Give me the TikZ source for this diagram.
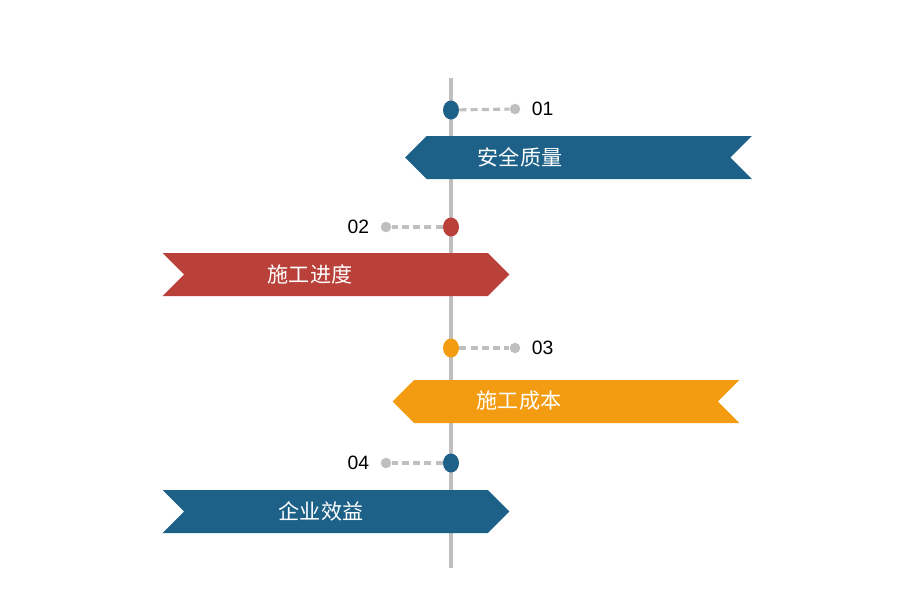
\documentclass[tikz,border=0pt]{standalone}
\usepackage{fontspec}
\setmainfont{Liberation Sans}
\newfontfamily\cjk{Noto Sans CJK SC}
\usetikzlibrary{positioning,shapes.geometric,shapes.symbols}
\definecolor{tlblue}{HTML}{1D6189}
\definecolor{tlred}{HTML}{B9413A}
\definecolor{tlorange}{HTML}{F49C11}
\definecolor{tlgray}{HTML}{BFBFBF}

\begin{document}
\begin{tikzpicture}[
x=0.02cm, y=-0.02cm,
node distance=0.22cm,
dot/.style={ellipse, inner sep=0, minimum width=0.32cm, minimum height=0.38cm},
tick/.style={circle, fill=tlgray, inner sep=0, minimum size=0.21cm},
link/.style={draw=tlgray, line width=1.8pt, dash pattern=on 4pt off 2.4pt},
banner/.style={signal, signal pointer angle=90, inner sep=0, minimum height=0.86cm, minimum width=6.94cm},
caption/.style={text=white, font=\cjk\fontsize{12}{14}\selectfont},
num/.style={inner sep=0, font=\fontsize{11}{13}\selectfont}
]
\useasboundingbox (0,0) rectangle (900,600);
\coordinate (top) at (451,78);
\coordinate (bottom) at (451,568);
\draw[tlgray, line width=1.8pt] (top) -- (bottom);

% banners
\node[banner, fill=tlblue, signal to=west, signal from=east] (b1) at (578.5,157.5) {};
\node[banner, fill=tlred, signal to=east, signal from=west] (b2) at (336,274.5) {};
\node[banner, fill=tlorange, signal to=west, signal from=east] (b3) at (566,401.5) {};
\node[banner, fill=tlblue, signal to=east, signal from=west] (b4) at (336,511.5) {};
\node[caption] (c1) at (520,157) {安全质量};
\node[caption] (c2) at (310,274) {施工进度};
\node[caption] (c3) at (519,401) {施工成本};
\node[caption] (c4) at (321,511) {企业效益};

% markers on the axis
\node[dot, fill=tlblue] (d1) at (451,110) {};
\node[dot, fill=tlred] (d2) at (451,227) {};
\node[dot, fill=tlorange] (d3) at (451,348) {};
\node[dot, fill=tlblue] (d4) at (451,463) {};
\node[tick] (t1) at (515,109) {};
\node[tick] (t2) at (386,227) {};
\node[tick] (t3) at (515,348) {};
\node[tick] (t4) at (386,463) {};
\draw[link] (d1) -- (t1);
\draw[link] (d2) -- (t2);
\draw[link] (d3) -- (t3);
\draw[link] (d4) -- (t4);
\node[num, right=of t1] (n1) {01};
\node[num, left=of t2] (n2) {02};
\node[num, right=of t3] (n3) {03};
\node[num, left=of t4] (n4) {04};
\end{tikzpicture}
\end{document}
